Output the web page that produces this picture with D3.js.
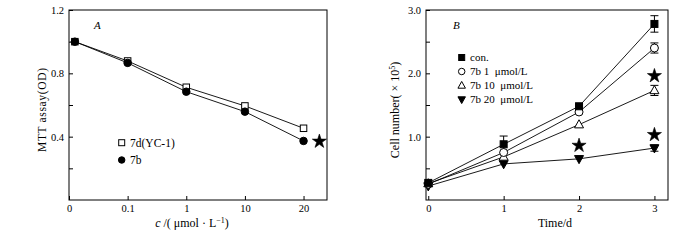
<!DOCTYPE html>
<html>
<head>
<meta charset="utf-8">
<script src="https://cdn.jsdelivr.net/npm/d3@7"></script>
<style>
  body { margin: 0; background: #fff; }
  svg { display: block; }
</style>
</head>
<body>
<svg id="chart" width="700" height="240"></svg>
<script>
// Panel A data: MTT assay vs concentration
const concLabels = ["0", "0.1", "1", "10", "20"];
const concPos = [0.1, 1, 2, 3, 4];           // position on the category axis
const mtt7d = [1.0, 0.878, 0.712, 0.594, 0.453];
const mtt7b = [1.0, 0.866, 0.684, 0.558, 0.373];
const starsA = [{ x: 4.27, y: 0.37 }];

// Panel B data: cell number vs time
const days = [0, 1, 2, 3];
const cellCon = [0.27, 0.88, 1.48, 2.78];
const cellCon_err = [0, 0.13, 0, 0.13];
const cell1 = [0.25, 0.75, 1.39, 2.40];
const cell1_err = [0, 0, 0, 0.08];
const cell10 = [0.26, 0.68, 1.19, 1.73];
const cell10_err = [0, 0, 0, 0.08];
const cell20 = [0.22, 0.57, 0.65, 0.82];
const cell20_err = [0, 0, 0, 0.05];
const starsB = [{ x: 2, y: 0.86 }, { x: 3, y: 1.96 }, { x: 3, y: 1.03 }];

const font = "'Liberation Serif', 'Times New Roman', serif";
const svg = d3.select("#chart");

function star(g, x, y, list) {
  g.selectAll(".star").data(list).enter().append("path")
    .attr("class", "star")
    .attr("d", d3.symbol().type(d3.symbolStar).size(62))
    .attr("transform", d => `translate(${x(d.x)},${y(d.y)})`)
    .attr("fill", "#000").attr("stroke", "#000").attr("stroke-width", 0.6);
}

function marker(g, kind, cx, cy, s) {
  if (kind === "sqOpen" || kind === "sqFill") {
    g.append("rect").attr("x", cx - s / 2).attr("y", cy - s / 2)
      .attr("width", s).attr("height", s)
      .attr("fill", kind === "sqFill" ? "#000" : "#fff")
      .attr("stroke", "#000").attr("stroke-width", 1);
  } else if (kind === "cFill" || kind === "cOpen") {
    g.append("circle").attr("cx", cx).attr("cy", cy).attr("r", s / 2)
      .attr("fill", kind === "cFill" ? "#000" : "#fff")
      .attr("stroke", "#000").attr("stroke-width", 1);
  } else if (kind === "triUp") {
    const h = s * 0.9;
    g.append("path")
      .attr("d", `M${cx},${cy - h * 0.6}L${cx + s / 2},${cy + h * 0.4}L${cx - s / 2},${cy + h * 0.4}Z`)
      .attr("fill", "#fff").attr("stroke", "#000").attr("stroke-width", 1);
  } else if (kind === "triDown") {
    const h = s * 0.9;
    g.append("path")
      .attr("d", `M${cx},${cy + h * 0.6}L${cx + s / 2},${cy - h * 0.4}L${cx - s / 2},${cy - h * 0.4}Z`)
      .attr("fill", "#000").attr("stroke", "#000").attr("stroke-width", 1);
  }
}

function frame(x, y, majorY, minorY, xTicks, xFormat, yFormat) {
  const [x0, x1] = x.range();
  const [y0, y1] = y.range();

  const ax = svg.append("g");
  ax.append("g")
    .attr("transform", `translate(${x0},0)`)
    .call(d3.axisLeft(y).tickValues(majorY).tickFormat(yFormat).tickSizeInner(-4).tickSizeOuter(0).tickPadding(5))
    .call(g => g.select(".domain").remove());
  ax.append("g")
    .attr("transform", `translate(${x0},0)`)
    .call(d3.axisLeft(y).tickValues(minorY).tickFormat("").tickSizeInner(-4).tickSizeOuter(0))
    .call(g => g.select(".domain").remove());
  ax.append("g")
    .attr("transform", `translate(0,${y0})`)
    .call(d3.axisBottom(x).tickValues(xTicks).tickFormat(xFormat).tickSizeInner(-4).tickSizeOuter(0).tickPadding(5))
    .call(g => g.select(".domain").remove());

  ax.selectAll("text").attr("font-family", font).attr("font-size", 10.5).attr("fill", "#000");
  ax.selectAll("line").attr("stroke", "#000");

  svg.append("rect")
    .attr("x", x0).attr("y", y1).attr("width", x1 - x0).attr("height", y0 - y1)
    .attr("fill", "none").attr("stroke", "#000").attr("stroke-width", 1);
}

function series(g, x, y, xs, vals, errs) {
  const pts = vals.map((v, i) => ({ x: xs[i], y: v, e: errs ? errs[i] : 0 }));
  g.append("path").datum(pts)
    .attr("d", d3.line().x(d => x(d.x)).y(d => y(d.y)))
    .attr("fill", "none").attr("stroke", "#000").attr("stroke-width", 0.9);
  pts.filter(d => d.e > 0).forEach(d => {
    const cx = x(d.x);
    g.append("line").attr("x1", cx).attr("x2", cx).attr("y1", y(d.y - d.e)).attr("y2", y(d.y + d.e)).attr("stroke", "#000");
    [d.y - d.e, d.y + d.e].forEach(v => {
      g.append("line").attr("x1", cx - 4).attr("x2", cx + 4).attr("y1", y(v)).attr("y2", y(v)).attr("stroke", "#000");
    });
  });
  return pts;
}

// ---------- Panel A ----------
const xA = d3.scaleLinear().domain([0, 4.4]).range([69, 327]);
const yA = d3.scaleLinear().domain([0, 1.2]).range([200, 10]);
frame(xA, yA, [0.4, 0.8, 1.2], [0.2, 0.6, 1.0], [0, 1, 2, 3, 4], (d, i) => concLabels[i], d3.format(".1f"));

const gA = svg.append("g");
const pA1 = series(gA, xA, yA, concPos, mtt7d, null);
const pA2 = series(gA, xA, yA, concPos, mtt7b, null);
pA1.forEach(d => marker(gA, "sqOpen", xA(d.x), yA(d.y), 6.5));
pA2.forEach(d => marker(gA, "cFill", xA(d.x), yA(d.y), 7.5));
star(gA, xA, yA, starsA);

svg.append("text").attr("x", 94).attr("y", 29).attr("font-family", font).attr("font-style", "italic")
  .attr("font-size", 11).text("A");

const legA = [{ k: "sqOpen", s: 6, t: "7d(YC-1)" }, { k: "cFill", s: 6.5, t: "7b" }];
legA.forEach((d, i) => {
  const cy = 142.7 + i * 17.3;
  marker(svg, d.k, 121.7, cy, d.s);
  svg.append("text").attr("x", 130).attr("y", cy + 3.8).attr("font-family", font).attr("font-size", 11.5).text(d.t);
});

svg.append("text")
  .attr("transform", `translate(46,110) rotate(-90)`)
  .attr("text-anchor", "middle").attr("font-family", font).attr("font-size", 11.5)
  .attr("textLength", 84).attr("lengthAdjust", "spacing")
  .text("MTT assay(OD)");

const xlabA = svg.append("text").attr("x", 192).attr("y", 227).attr("text-anchor", "middle")
  .attr("font-family", font).attr("font-size", 12);
xlabA.append("tspan").attr("font-style", "italic").text("c");
xlabA.append("tspan").text(" /( μmol · L");
xlabA.append("tspan").attr("font-size", 8).attr("dy", -4).text("−1");
xlabA.append("tspan").attr("dy", 4).text(")");

// ---------- Panel B ----------
const xB = d3.scaleLinear().domain([-0.03, 3.18]).range([426, 668]);
const yB = d3.scaleLinear().domain([0, 3]).range([200, 10]);
frame(xB, yB, [1, 2, 3], [0.5, 1.5, 2.5], days, d3.format("d"), d3.format(".1f"));

const gB = svg.append("g");
const sB = [
  { v: cellCon, e: cellCon_err, k: "sqFill", s: 7 },
  { v: cell1, e: cell1_err, k: "cOpen", s: 8 },
  { v: cell10, e: cell10_err, k: "triUp", s: 9 },
  { v: cell20, e: cell20_err, k: "triDown", s: 9 }
];
const ptsB = sB.map(d => series(gB, xB, yB, days, d.v, d.e));
ptsB.slice().reverse().forEach((pts, j) => {
  const d = sB[sB.length - 1 - j];
  pts.forEach(p => marker(gB, d.k, xB(p.x), yB(p.y), d.s));
});
star(gB, xB, yB, starsB);

svg.append("text").attr("x", 453).attr("y", 29).attr("font-family", font).attr("font-style", "italic")
  .attr("font-size", 11).text("B");

const legB = [
  { k: "sqFill", s: 6, t: "con." },
  { k: "cOpen", s: 6.5, t: "7b 1  μmol/L" },
  { k: "triUp", s: 7.5, t: "7b 10  μmol/L" },
  { k: "triDown", s: 7.5, t: "7b 20  μmol/L" }
];
legB.forEach((d, i) => {
  const cy = 57.5 + i * 14;
  marker(svg, d.k, 461.7, cy, d.s);
  svg.append("text").attr("x", 470).attr("y", cy + 3.5).attr("font-family", font).attr("font-size", 11)
    .attr("xml:space", "preserve").text(d.t);
});

const ylabB = svg.append("text")
  .attr("transform", `translate(399,110) rotate(-90)`)
  .attr("text-anchor", "middle").attr("font-family", font).attr("font-size", 12);
ylabB.append("tspan").text("Cell number( × 10");
ylabB.append("tspan").attr("font-size", 8).attr("dy", -4).text("5");
ylabB.append("tspan").attr("dy", 4).text(")");

svg.append("text").attr("x", 555).attr("y", 227).attr("text-anchor", "middle")
  .attr("font-family", font).attr("font-size", 12).text("Time/d");
</script>
</body>
</html>
